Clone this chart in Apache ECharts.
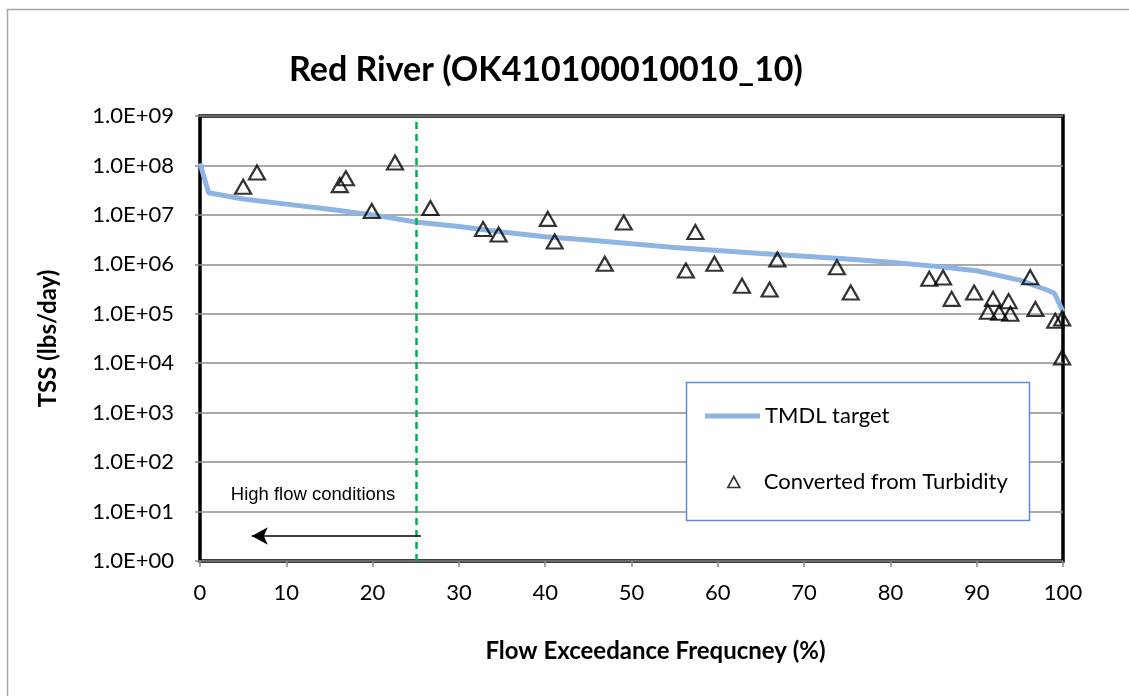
<!DOCTYPE html>
<html><head><meta charset="utf-8">
<script src="https://cdn.jsdelivr.net/npm/echarts@6/dist/echarts.min.js"></script>
<style>html,body{margin:0;padding:0;background:#fff}#c{width:1129px;height:696px}</style>
</head><body><div id="c"></div>
<script>
// TMDL target curve (flow exceedance %, TSS lbs/day)
const flowPct = [0, 1, 5, 10, 15, 20, 25, 30, 35, 40, 45, 50, 55, 60, 65, 70, 75, 80, 85, 90, 95, 98, 99, 100];
const tmdlTarget = [1.1e8, 2.8e7, 2.1e7, 1.65e7, 1.3e7, 1.0e7, 7.2e6, 5.8e6, 4.5e6, 3.6e6, 3.1e6, 2.6e6, 2.2e6, 1.9e6, 1.65e6, 1.45e6, 1.28e6, 1.1e6, 9.2e5, 7.4e5, 4.8e5, 3.1e5, 2.6e5, 1.1e5];
// Samples converted from turbidity
const sampleFlow = [5.0, 6.6, 16.2, 16.9, 19.9, 22.6, 26.7, 32.8, 34.6, 40.3, 41.1, 46.9, 49.1, 56.3, 57.4, 59.6, 62.8, 66.0, 66.9, 73.8, 75.4, 84.5, 86.1, 87.1, 89.7, 91.3, 91.9, 92.6, 93.7, 93.9, 96.2, 96.8, 99.1, 99.9, 99.9];
const sampleTSS = [3.7e7, 7.2e7, 4.0e7, 5.5e7, 1.2e7, 1.15e8, 1.38e7, 5.2e6, 4.0e6, 8.3e6, 2.9e6, 1.03e6, 7.0e6, 7.5e5, 4.5e6, 1.03e6, 3.7e5, 3.1e5, 1.25e6, 8.7e5, 2.7e5, 5.1e5, 5.4e5, 2.0e5, 2.7e5, 1.1e5, 2.0e5, 1.05e5, 1.8e5, 1.0e5, 5.5e5, 1.25e5, 7.2e4, 8.0e4, 1.3e4];
const yTickLabels = ['1.0E+00','1.0E+01','1.0E+02','1.0E+03','1.0E+04','1.0E+05','1.0E+06','1.0E+07','1.0E+08','1.0E+09'];
const highFlowBoundary = 25;
const arrowFrom = [25.6, 3.2];
const arrowTo = [6.0, 3.2];
const annotPos = [13.1, 21.6];

const F = 'Lato, "Open Sans", sans-serif';
const titleText = 'Red River (OK410100010010_10)';
const titleFont = 'bold 34px Lato';
const ctx = document.createElement('canvas').getContext('2d');
ctx.font = titleFont;
const titleW = ctx.measureText(titleText).width;

const chart = echarts.init(document.getElementById('c'));
chart.setOption({
  animation: false,
  backgroundColor: '#fff',
  title: {
    text: titleText, left: Math.round(546 - titleW / 2), top: 53, padding: 0,
    textStyle: {fontFamily: F, fontSize: 34, fontWeight: 'bold', color: '#000'}
  },
  grid: {left: 200, right: 66, top: 116, bottom: 135, show: true, borderColor: '#000', borderWidth: 3.5},
  legend: [
    {
      data: [{name: 'TMDL target', icon: 'path://M0,0H55V5H0Z'}], left: 705, top: 405, padding: 0,
      itemWidth: 55, itemHeight: 12, selectedMode: false, z: 5,
      textStyle: {fontFamily: F, fontSize: 22, color: '#000'}
    },
    {
      data: ['Converted from Turbidity'], left: 727, top: 471, padding: 0,
      itemWidth: 12, itemHeight: 11, selectedMode: false, z: 5,
      itemStyle: {borderWidth: 1.6, borderColor: '#000', color: 'rgba(0,0,0,0)'},
      textStyle: {fontFamily: F, fontSize: 22, color: '#000', padding: [0, 0, 0, 19]}
    }
  ],
  graphic: [
    {type: 'rect', z: 3, silent: true, shape: {x: 686.5, y: 382.5, width: 343, height: 138},
     style: {fill: '#fff', stroke: '#5b8ed6', lineWidth: 1.5}},
    {type: 'rect', z: 0, silent: true, shape: {x: 7.5, y: 9.5, width: 1300, height: 900},
     style: {fill: 'none', stroke: '#a6a6a6', lineWidth: 1.5}}
  ],
  xAxis: {
    type: 'value', min: 0, max: 100, interval: 10,
    name: 'Flow Exceedance Frequcney (%)', nameLocation: 'middle', nameGap: 78,
    nameTextStyle: {fontFamily: F, fontSize: 24, fontWeight: 'bold', color: '#000', padding: [0, 0, 0, 48]},
    axisLine: {show: false},
    axisTick: {show: true, length: 6, lineStyle: {color: '#888', width: 1.5}},
    splitLine: {show: false},
    axisLabel: {fontFamily: F, fontSize: 22, color: '#000', margin: 21}
  },
  yAxis: {
    type: 'log', logBase: 10, min: 1, max: 1e9, splitNumber: 9,
    name: 'TSS (lbs/day)', nameLocation: 'middle', nameGap: 140,
    nameTextStyle: {fontFamily: F, fontSize: 24, fontWeight: 'bold', color: '#000'},
    axisLine: {show: false},
    axisTick: {show: true, length: 5, lineStyle: {color: '#888', width: 1.5}},
    splitLine: {show: true, lineStyle: {color: '#8c8c8c', width: 1.5}},
    minorTick: {show: false},
    axisLabel: {fontFamily: F, fontSize: 22, color: '#000', margin: 26,
      formatter: v => yTickLabels[Math.round(Math.log10(v))]}
  },
  series: [
    {
      name: 'TMDL target', type: 'line', z: 2, symbol: 'none',
      data: flowPct.map((x, i) => [x, tmdlTarget[i]]),
      lineStyle: {color: '#8db4e2', width: 5}, itemStyle: {color: '#8db4e2'}
    },
    {
      name: 'Converted from Turbidity', type: 'scatter', z: 4, symbol: 'triangle', symbolSize: [16, 14],
      data: sampleFlow.map((x, i) => [x, sampleTSS[i]]),
      itemStyle: {color: 'rgba(0,0,0,0)', borderColor: '#000', borderWidth: 2.2}
    },
    {
      name: 'boundary', type: 'line', data: [], z: 3,
      markLine: {silent: true, symbol: ['none', 'none'], label: {show: false},
        lineStyle: {color: '#00b050', type: [7, 5], width: 2.5},
        data: [{xAxis: highFlowBoundary}]}
    },
    {
      name: 'arrow', type: 'line', data: [], z: 3,
      markLine: {silent: true, symbol: ['none', 'arrow'], symbolSize: [13, 16], label: {show: false},
        lineStyle: {color: '#000', type: 'solid', width: 1.5},
        data: [[{coord: arrowFrom}, {coord: arrowTo}]]},
      markPoint: {silent: true, symbol: 'rect', symbolSize: 0,
        data: [{coord: annotPos, label: {show: true, position: 'inside', formatter: 'High flow conditions',
          fontFamily: '"Liberation Sans", Arial, sans-serif', fontSize: 18.5, color: '#000'}}]}
    }
  ]
});
</script>
</body></html>
